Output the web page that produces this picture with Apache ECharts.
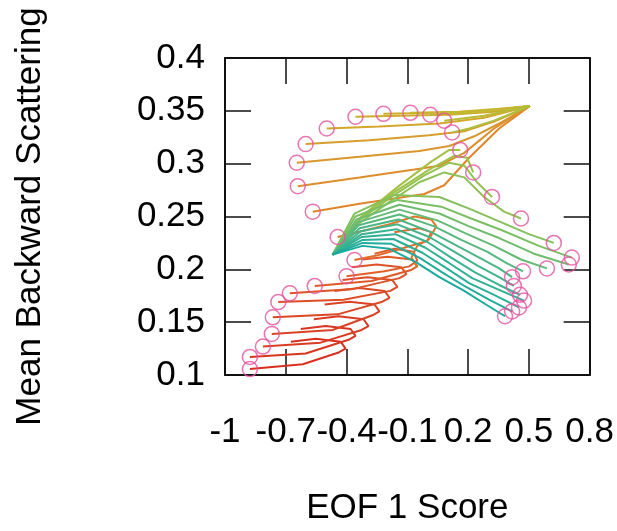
<!DOCTYPE html>
<html>
<head>
<meta charset="utf-8">
<script src="https://cdn.jsdelivr.net/npm/echarts@6/dist/echarts.min.js"></script>
<style>
  html, body { margin: 0; padding: 0; background: #fff; }
  #chart { width: 617px; height: 531px; }
</style>
</head>
<body>
<div id="chart"></div>
<script>
// axis settings
const xRange = [-1, 0.8]
const yRange = [0.1, 0.4]

// hooked tracks, lower left (circle = first point)
const redTracks = [
  [[-0.877,0.1056],[-0.616,0.1102],[-0.439,0.1213],[-0.405,0.1250],[-0.429,0.1315],[-0.552,0.1343],[-0.675,0.1315]],
  [[-0.877,0.1171],[-0.602,0.1204],[-0.390,0.1333],[-0.356,0.1370],[-0.380,0.1435],[-0.503,0.1463],[-0.626,0.1435]],
  [[-0.813,0.1269],[-0.528,0.1306],[-0.326,0.1426],[-0.292,0.1463],[-0.316,0.1528],[-0.439,0.1556],[-0.562,0.1528]],
  [[-0.769,0.1389],[-0.469,0.1426],[-0.272,0.1565],[-0.238,0.1602],[-0.262,0.1667],[-0.385,0.1694],[-0.508,0.1667]],
  [[-0.764,0.1546],[-0.444,0.1574],[-0.223,0.1694],[-0.188,0.1731],[-0.213,0.1796],[-0.336,0.1824],[-0.459,0.1796]],
  [[-0.737,0.1690],[-0.415,0.1713],[-0.184,0.1796],[-0.149,0.1833],[-0.174,0.1898],[-0.297,0.1926],[-0.420,0.1898]],
  [[-0.680,0.1773],[-0.366,0.1815],[-0.139,0.1917],[-0.105,0.1954],[-0.129,0.2019],[-0.252,0.2046],[-0.375,0.2019]],
  [[-0.557,0.1843],[-0.277,0.1889],[-0.085,0.1991],[-0.051,0.2028],[-0.075,0.2093],[-0.198,0.2120],[-0.321,0.2093]],
  [[-0.400,0.1935],[-0.213,0.1981],[-0.090,0.2028],[-0.051,0.2083],[-0.070,0.2167],[-0.164,0.2194],[-0.262,0.2148]],
  [[-0.361,0.2088],[-0.252,0.2130],[-0.115,0.2204],[-0.001,0.2269],[0.018,0.2352],[-0.041,0.2389],[-0.164,0.2352]],
  [[-0.444,0.2306],[-0.326,0.2361],[-0.188,0.2426],[-0.065,0.2500],[0.018,0.2472],[0.043,0.2407],[0.008,0.2287],[-0.051,0.2222],[-0.080,0.2111],[-0.051,0.2019]]
]

// upper tracks running into the top right corner (circle = first point)
const topTracks = [
  [[-0.567,0.2546],[-0.336,0.2620],[-0.115,0.2685],[-0.016,0.2713],[0.082,0.2796],[0.205,0.3056],[0.353,0.3333],[0.505,0.3546]],
  [[-0.641,0.2787],[-0.336,0.2870],[-0.065,0.2944],[0.058,0.2981],[0.181,0.3102],[0.328,0.3333],[0.505,0.3546]],
  [[-0.646,0.3009],[-0.336,0.3065],[-0.041,0.3120],[0.107,0.3167],[0.230,0.3259],[0.353,0.3380],[0.505,0.3546]],
  [[-0.602,0.3185],[-0.287,0.3222],[0.008,0.3269],[0.181,0.3306],[0.328,0.3398],[0.505,0.3546]],
  [[-0.498,0.3333],[-0.238,0.3352],[0.058,0.3380],[0.279,0.3435],[0.505,0.3546]],
  [[-0.356,0.3444],[-0.139,0.3454],[0.107,0.3463],[0.328,0.3491],[0.505,0.3546]],
  [[-0.218,0.3472],[0.058,0.3481],[0.303,0.3500],[0.505,0.3546]],
  [[-0.085,0.3481],[0.156,0.3491],[0.353,0.3519],[0.505,0.3546]],
  [[0.013,0.3463],[0.205,0.3481],[0.505,0.3546]],
  [[0.082,0.3407],[0.279,0.3454],[0.505,0.3546]],
  [[0.121,0.3296],[0.205,0.3333],[0.328,0.3407],[0.505,0.3546]]
]

// green / teal fan from the left point (circle = last point)
const greenTracks = [
  [[-0.469,0.2139],[-0.326,0.2500],[-0.149,0.2778],[0.018,0.3019],[0.107,0.3130],[0.161,0.3130]],
  [[-0.469,0.2139],[-0.336,0.2481],[-0.164,0.2731],[0.008,0.2944],[0.131,0.3074],[0.195,0.3056],[0.225,0.2917]],
  [[-0.469,0.2139],[-0.346,0.2454],[-0.179,0.2685],[-0.016,0.2889],[0.107,0.3009],[0.181,0.2981],[0.244,0.2824],[0.318,0.2685]],
  [[-0.469,0.2139],[-0.346,0.2426],[-0.188,0.2639],[-0.041,0.2824],[0.082,0.2917],[0.181,0.2870],[0.279,0.2685],[0.377,0.2546],[0.461,0.2481]],
  [[-0.469,0.2139],[-0.361,0.2528],[-0.164,0.2704],[0.058,0.2685],[0.205,0.2574],[0.353,0.2454],[0.500,0.2333],[0.623,0.2250]],
  [[-0.469,0.2139],[-0.356,0.2500],[-0.149,0.2657],[0.067,0.2593],[0.215,0.2481],[0.367,0.2370],[0.549,0.2222],[0.712,0.2111]],
  [[-0.469,0.2139],[-0.351,0.2472],[-0.139,0.2611],[0.058,0.2528],[0.205,0.2407],[0.353,0.2296],[0.525,0.2148],[0.697,0.2046]],
  [[-0.469,0.2139],[-0.346,0.2444],[-0.139,0.2565],[0.048,0.2463],[0.185,0.2343],[0.328,0.2222],[0.461,0.2093],[0.589,0.2009]],
  [[-0.469,0.2139],[-0.341,0.2417],[-0.139,0.2519],[0.033,0.2407],[0.166,0.2278],[0.293,0.2167],[0.392,0.2056],[0.471,0.1981]],
  [[-0.469,0.2139],[-0.336,0.2389],[-0.144,0.2472],[0.018,0.2352],[0.146,0.2222],[0.264,0.2102],[0.353,0.2009],[0.417,0.1926]],
  [[-0.469,0.2139],[-0.331,0.2361],[-0.149,0.2426],[0.008,0.2306],[0.131,0.2167],[0.244,0.2037],[0.353,0.1926],[0.426,0.1843]],
  [[-0.469,0.2139],[-0.326,0.2333],[-0.154,0.2380],[-0.001,0.2259],[0.116,0.2111],[0.234,0.1972],[0.353,0.1852],[0.456,0.1759]],
  [[-0.469,0.2139],[-0.326,0.2306],[-0.159,0.2333],[-0.011,0.2204],[0.102,0.2065],[0.220,0.1917],[0.353,0.1806],[0.476,0.1704]],
  [[-0.469,0.2139],[-0.321,0.2278],[-0.169,0.2287],[-0.026,0.2157],[0.087,0.2019],[0.205,0.1870],[0.328,0.1759],[0.451,0.1639]],
  [[-0.469,0.2139],[-0.321,0.2250],[-0.179,0.2241],[-0.041,0.2111],[0.072,0.1972],[0.190,0.1833],[0.303,0.1713],[0.417,0.1602]],
  [[-0.469,0.2139],[-0.321,0.2222],[-0.188,0.2194],[-0.056,0.2065],[0.058,0.1926],[0.181,0.1796],[0.288,0.1667],[0.382,0.1556]]
]

// colour ramp along the track order: red -> orange -> olive -> green -> teal
const colorStops = [
  [0, '#d7301f'], [0.22, '#e0602a'], [0.3, '#df862b'], [0.4, '#d4a52c'], [0.5, '#c6b82e'],
  [0.6, '#a2c244'], [0.72, '#7fc060'], [0.85, '#45b58a'], [1, '#1aab9f']
]

function hex(c) { return [1, 3, 5].map((i) => parseInt(c.slice(i, i + 2), 16)) }
function rampColor(t) {
  for (let i = 1; i < colorStops.length; i++) {
    const [t1, c1] = colorStops[i]
    const [t0, c0] = colorStops[i - 1]
    if (t <= t1) {
      const f = (t - t0) / (t1 - t0)
      const a = hex(c0), b = hex(c1)
      return 'rgb(' + a.map((v, k) => Math.round(v + (b[k] - v) * f)).join(',') + ')'
    }
  }
  return colorStops[colorStops.length - 1][1]
}

const tracks = [...redTracks, ...topTracks, ...greenTracks]
const circles = [
  ...redTracks.map((t) => t[0]),
  ...topTracks.map((t) => t[0]),
  ...greenTracks.map((t) => t[t.length - 1])
]

const fmt = (v) => String(+v.toFixed(2))
const font = 'Liberation Sans'
const tickStyle = { show: true, inside: true, length: 26, lineStyle: { color: '#111', width: 1.5 } }
const lineStyle = { show: true, onZero: false, lineStyle: { color: '#111', width: 2 } }

const series = tracks.map((t, i) => ({
  type: 'line',
  data: t,
  showSymbol: false,
  silent: true,
  lineStyle: { width: 2, color: rampColor(i / (tracks.length - 1)) },
  z: 2
}))
series.push({
  type: 'scatter',
  data: circles,
  symbol: 'circle',
  symbolSize: 15,
  itemStyle: { color: 'rgba(0,0,0,0)', borderColor: '#e4529f', borderWidth: 1.5 },
  z: 5
})

const chart = echarts.init(document.getElementById('chart'))
chart.setOption({
  animation: false,
  grid: { left: 225, right: 25, top: 58, bottom: 149 },
  xAxis: [
    {
      type: 'value', min: xRange[0], max: xRange[1], interval: 0.3, position: 'bottom',
      name: 'EOF 1 Score', nameLocation: 'middle', nameGap: 116,
      nameTextStyle: { fontFamily: font, fontSize: 35, color: '#000' },
      axisLine: lineStyle, axisTick: tickStyle, splitLine: { show: false },
      axisLabel: { formatter: fmt, margin: 40, fontFamily: font, fontSize: 35, color: '#000' }
    },
    {
      type: 'value', min: xRange[0], max: xRange[1], interval: 0.3, position: 'top',
      axisLine: lineStyle, axisTick: tickStyle, splitLine: { show: false }, axisLabel: { show: false }
    }
  ],
  yAxis: [
    {
      type: 'value', min: yRange[0], max: yRange[1], interval: 0.05, position: 'left',
      name: 'Mean Backward Scattering', nameLocation: 'middle', nameGap: 177,
      nameTextStyle: { fontFamily: font, fontSize: 35, color: '#000' },
      axisLine: lineStyle, axisTick: tickStyle, splitLine: { show: false },
      axisLabel: { formatter: fmt, margin: 20, fontFamily: font, fontSize: 35, color: '#000' }
    },
    {
      type: 'value', min: yRange[0], max: yRange[1], interval: 0.05, position: 'right',
      axisLine: lineStyle, axisTick: tickStyle, splitLine: { show: false }, axisLabel: { show: false }
    }
  ],
  series
})
</script>
</body>
</html>
